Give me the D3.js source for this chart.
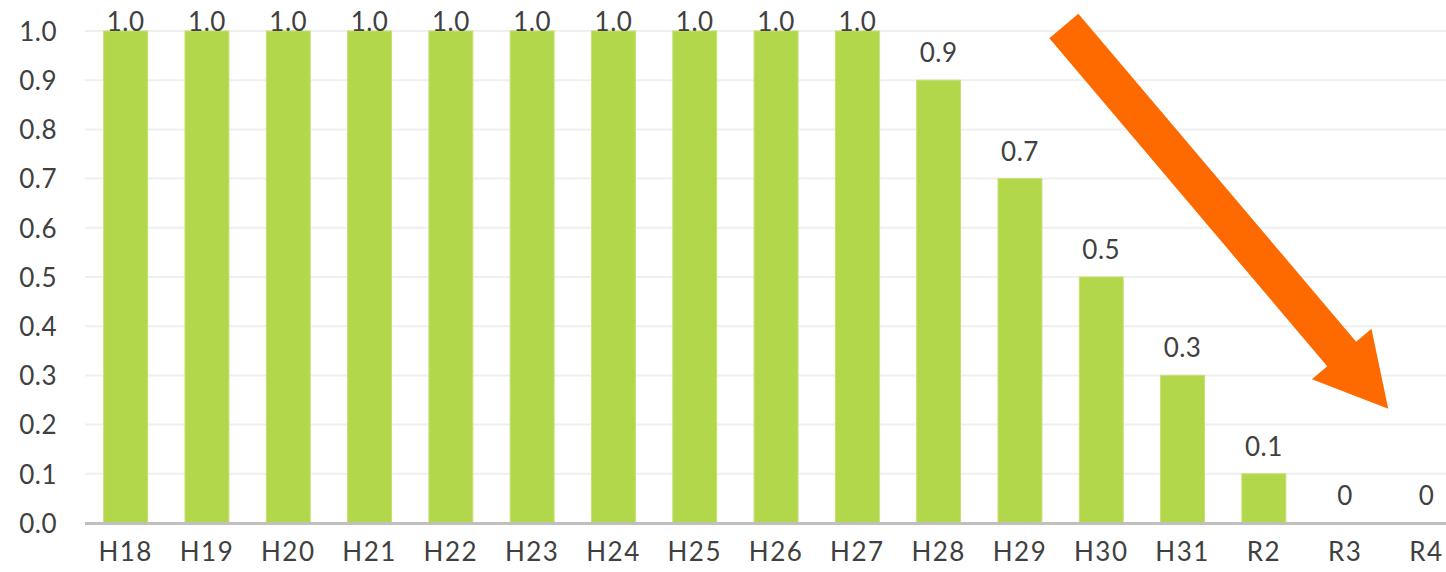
<!DOCTYPE html>
<html>
<head>
<meta charset="utf-8">
<script src="https://cdn.jsdelivr.net/npm/d3@7"></script>
<style>
  body { margin: 0; background: #fff; overflow: hidden; }
  text { font-family: Lato, "Noto Sans", sans-serif; fill: #404040; }
</style>
</head>
<body>
<div id="chart"></div>
<script>
// DATA
const categories = ["H18", "H19", "H20", "H21", "H22", "H23", "H24", "H25", "H26", "H27",
  "H28", "H29", "H30", "H31", "R2", "R3", "R4"];
const values = [1.0, 1.0, 1.0, 1.0, 1.0, 1.0, 1.0, 1.0, 1.0, 1.0, 0.9, 0.7, 0.5, 0.3, 0.1, 0, 0];
const valueLabels = ["1.0", "1.0", "1.0", "1.0", "1.0", "1.0", "1.0", "1.0", "1.0", "1.0",
  "0.9", "0.7", "0.5", "0.3", "0.1", "0", "0"];
const yTicks = [0, 0.1, 0.2, 0.3, 0.4, 0.5, 0.6, 0.7, 0.8, 0.9, 1.0];
// arrow annotation, in (band position, value) units
const arrowFrom = [12.04, 1.01];
const arrowTo = [16.03, 0.232];

/* CONSTANTS */
const width = 1446,
  height = 572,
  margin = { top: 31, bottom: 49, left: 85 },
  step = 81.3;

const svg = d3.select("#chart")
  .append("svg")
  .attr("width", width)
  .attr("height", height);

const xScale = d3.scaleBand()
  .domain(categories)
  .range([margin.left, margin.left + step * categories.length])
  .paddingInner(0.46)
  .paddingOuter(0.23);

const yScale = d3.scaleLinear()
  .domain([0, 1])
  .range([height - margin.bottom, margin.top]);

// band index -> pixel (for the arrow)
const bandX = d3.scaleLinear()
  .domain([0, categories.length])
  .range([margin.left, margin.left + step * categories.length]);

// gridlines
svg.selectAll("line.grid")
  .data(yTicks.slice(1))
  .join("line")
  .attr("class", "grid")
  .attr("x1", margin.left)
  .attr("x2", width)
  .attr("y1", d => yScale(d))
  .attr("y2", d => yScale(d))
  .attr("stroke", "#efefef")
  .attr("stroke-width", 2);

// y axis labels
const yAxis = d3.axisLeft(yScale)
  .tickValues(yTicks)
  .tickFormat(d3.format(".1f"))
  .tickSize(0)
  .tickPadding(28);

svg.append("g")
  .attr("transform", `translate(${margin.left}, 0)`)
  .call(yAxis)
  .call(g => g.select(".domain").remove())
  .selectAll("text")
  .attr("font-size", 26)
  .attr("letter-spacing", 0.5)
  .attr("dy", "0.36em");

// bars
svg.selectAll("rect.bar")
  .data(values)
  .join("rect")
  .attr("class", "bar")
  .attr("x", (d, i) => xScale(categories[i]))
  .attr("width", xScale.bandwidth())
  .attr("y", d => yScale(d))
  .attr("height", d => yScale(0) - yScale(d))
  .attr("fill", "#b3d74b")
  .attr("stroke", "#c4e070")
  .attr("stroke-width", 1);

// value labels
svg.selectAll("text.val")
  .data(values)
  .join("text")
  .attr("class", "val")
  .attr("x", (d, i) => xScale(categories[i]) + xScale.bandwidth() / 2)
  .attr("y", d => Math.max(yScale(d) - 18, margin.top))
  .attr("text-anchor", "middle")
  .attr("font-size", 26)
  .attr("letter-spacing", 0.5)
  .text((d, i) => valueLabels[i]);

// x axis
const xAxis = d3.axisBottom(xScale).tickSize(0).tickPadding(20);

svg.append("g")
  .attr("transform", `translate(0, ${yScale(0)})`)
  .call(xAxis)
  .call(g => g.select(".domain").remove())
  .selectAll("text")
  .attr("font-size", 26)
  .attr("dy", "0.71em")
  .attr("letter-spacing", 1.5);

svg.append("line")
  .attr("x1", margin.left)
  .attr("x2", width)
  .attr("y1", yScale(0) + 0.5)
  .attr("y2", yScale(0) + 0.5)
  .attr("stroke", "#bfbfbf")
  .attr("stroke-width", 3);

// orange block arrow
const x0 = bandX(arrowFrom[0]), y0 = yScale(arrowFrom[1]);
const x1 = bandX(arrowTo[0]), y1 = yScale(arrowTo[1]);
const len = Math.hypot(x1 - x0, y1 - y0);
const shaftW = 38, headW = 78, headL = 72;
const arrowPts = [
  [0, -shaftW / 2], [len - headL, -shaftW / 2], [len - headL, -headW / 2], [len, 0],
  [len - headL, headW / 2], [len - headL, shaftW / 2], [0, shaftW / 2]
];
const angle = Math.atan2(y1 - y0, x1 - x0) * 180 / Math.PI;

svg.append("path")
  .attr("d", d3.line()(arrowPts) + "Z")
  .attr("fill", "#ff6a00")
  .attr("transform", `translate(${x0}, ${y0}) rotate(${angle})`);
</script>
</body>
</html>
